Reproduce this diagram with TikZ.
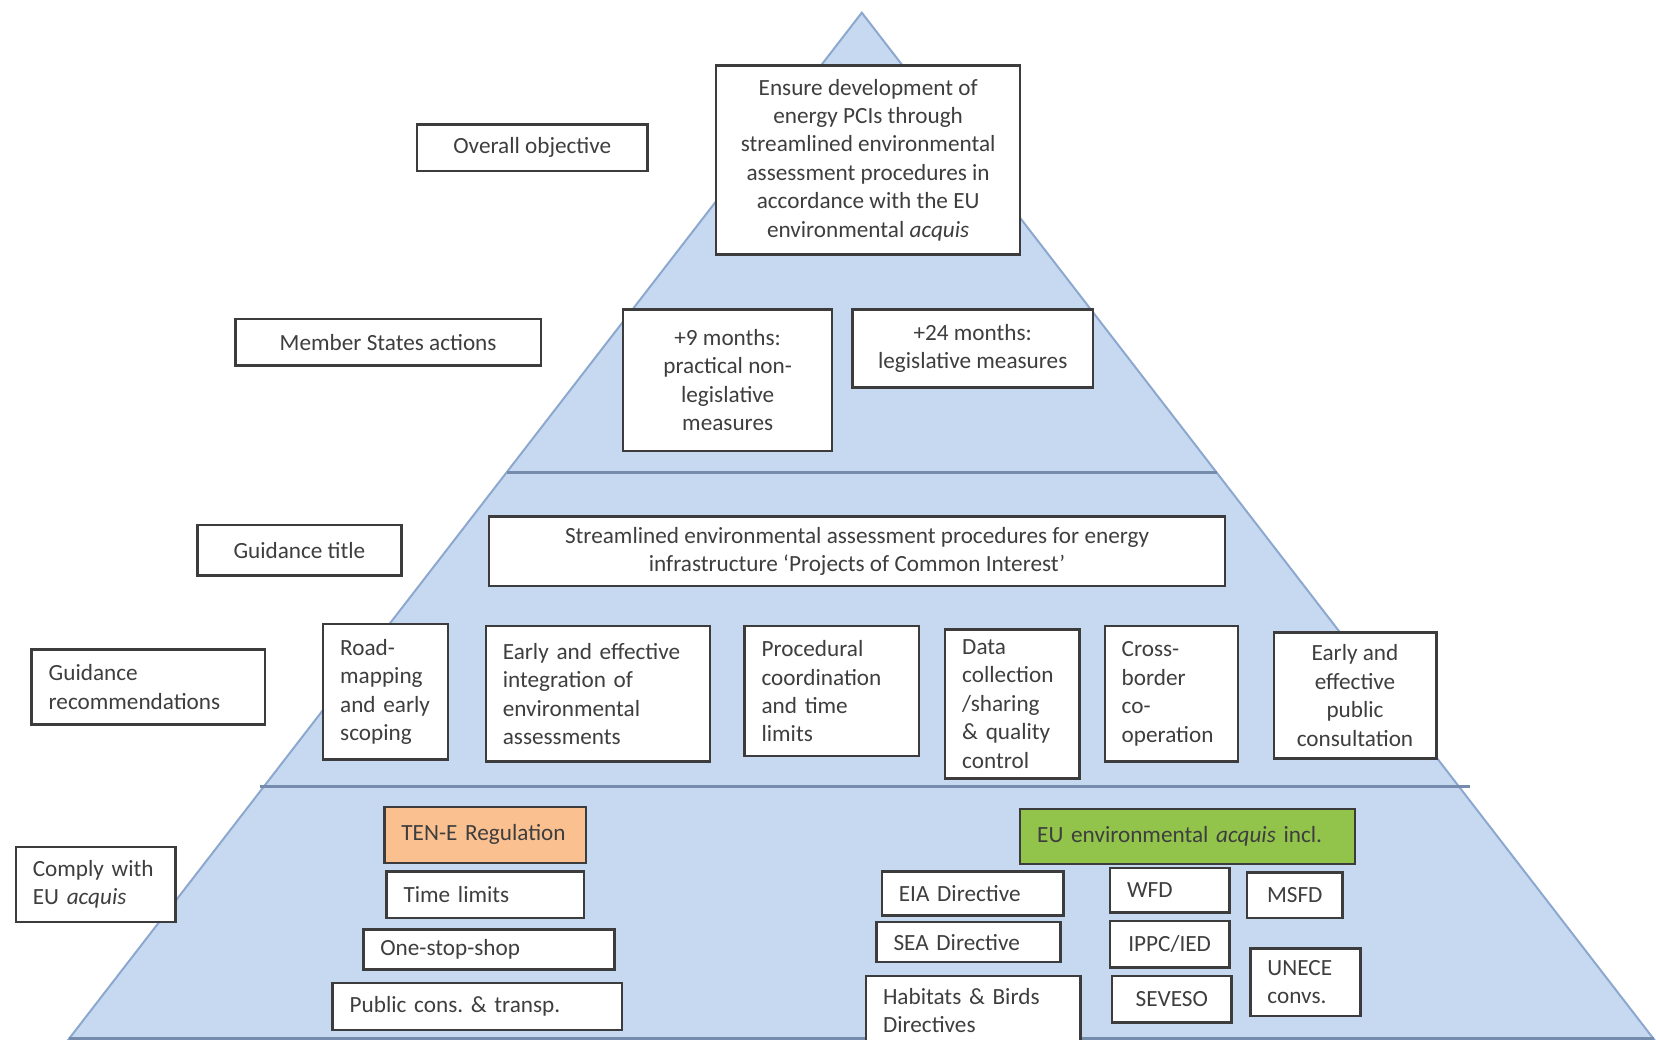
\documentclass[tikz,border=0pt]{standalone}
\usepackage{fontspec}
\setmainfont{Carlito}
\definecolor{pyrblue}{RGB}{198,217,241}
\definecolor{pyredge}{RGB}{140,168,206}
\definecolor{pyrline}{RGB}{118,140,172}
\definecolor{boxline}{RGB}{60,60,60}
\definecolor{txtgray}{RGB}{62,62,62}
\definecolor{tenorange}{RGB}{250,192,144}
\definecolor{acqgreen}{RGB}{146,196,76}

\begin{document}
\begin{tikzpicture}[
    x=0.528pt, y=-0.528pt,
    font=\fontsize{11.6}{14.2}\selectfont,
    box/.style={
        draw=boxline,
        line width=1.2pt,
        fill=white,
        text=txtgray,
        inner sep=0pt,
        align=center
    },
    cbox/.style 2 args={
        box,
        minimum width=#1*0.528pt,
        minimum height=#2*0.528pt
    },
    lbox/.style 2 args={
        cbox={#1}{#2},
        inner xsep=8.5pt,
        align=left,
        text width=#1*0.528pt-17pt
    }
]

\useasboundingbox (0,0) rectangle (1568,984);
\clip (0,0) rectangle (1568,984);

% Piramide
\filldraw[fill=pyrblue, draw=pyredge, line width=1pt] (816,12) -- (1566,984) -- (65,984) -- cycle;
\draw[pyrline, line width=1.5pt] (480,447) -- (1152,447);
\draw[pyrline, line width=1.5pt] (246,745) -- (1392,745);
\draw[pyrline, line width=1.5pt] (65,983) -- (1566,983);

% Etichette a sinistra
\node[cbox={218}{44}] (obj) at (504,140) {Overall objective};
\node[cbox={289}{44}] (msact) at (367.5,324) {Member States actions};
\node[cbox={193}{48}] (gtitle) at (283.5,521) {Guidance title};
\node[lbox={221}{71}] (grec) at (140.5,650.5) {Guidance\\recommendations};
\node[lbox={151}{71}] (comply) at (90.5,837.5) {Comply with\\EU \textit{acquis}};

% Obiettivo e azioni
\node[cbox={288}{179}] (goal) at (822,151.5) {Ensure development of\\energy PCIs through\\streamlined environmental\\assessment procedures in\\accordance with the EU\\environmental \textit{acquis}};
\node[cbox={198}{134}] (nine) at (689,360) {+9 months:\\practical non-\\legislative\\measures};
\node[cbox={228}{74}] (twfour) at (921,330) {+24 months:\\legislative measures};

% Guida
\node[cbox={697}{66}] (title) at (811.5,522) {Streamlined environmental assessment procedures for energy\\infrastructure `Projects of Common Interest'};
\node[lbox={118}{128}] (road) at (365,655) {Road-\\mapping\\\mbox{and early}\\scoping};
\node[lbox={212}{128}] (integ) at (566,657) {Early and effective\\integration of\\environmental\\assessments};
\node[lbox={165}{123}] (proc) at (787.5,654.5) {Procedural\\coordination\\and time\\limits};
\node[lbox={127}{141}] (data) at (958.5,666.5) {Data\\collection\\/sharing\\\& quality\\control};
\node[lbox={126}{128}] (cross) at (1109,657) {Cross-\\border\\co-\\operation};
\node[cbox={154}{119}] (pubcons) at (1283,658.5) {Early and\\effective\\public\\consultation};

% TEN-E
\node[lbox={191}{53}, fill=tenorange] (tene) at (459.5,790.5) {TEN-E Regulation};
\node[lbox={187}{44}] (tlim) at (459.5,847) {Time limits};
\node[lbox={238}{38}] (oss) at (463,899) {One-stop-shop};
\node[lbox={274}{44}] (transp) at (452,953) {Public cons.\ \& transp.};

% Acquis ambientale
\node[lbox={317}{52}, fill=acqgreen] (acq) at (1124.5,792) {EU environmental \textit{acquis} incl.};
\node[lbox={172}{42}] (eia) at (921,846) {EIA Directive};
\node[lbox={174}{38}] (sea) at (917,892) {SEA Directive};
\node[lbox={203}{66}] (hab) at (921.5,957) {Habitats \& Birds\\Directives};
\node[lbox={113}{42}] (wfd) at (1107.5,843) {WFD};
\node[cbox={113}{44}] (ippc) at (1107.5,894) {IPPC/IED};
\node[cbox={113}{44}] (seveso) at (1109.5,946) {SEVESO};
\node[cbox={90}{43}] (msfd) at (1226,847.5) {MSFD};
\node[lbox={104}{64}] (unece) at (1236,930) {UNECE\\convs.};

\end{tikzpicture}
\end{document}
